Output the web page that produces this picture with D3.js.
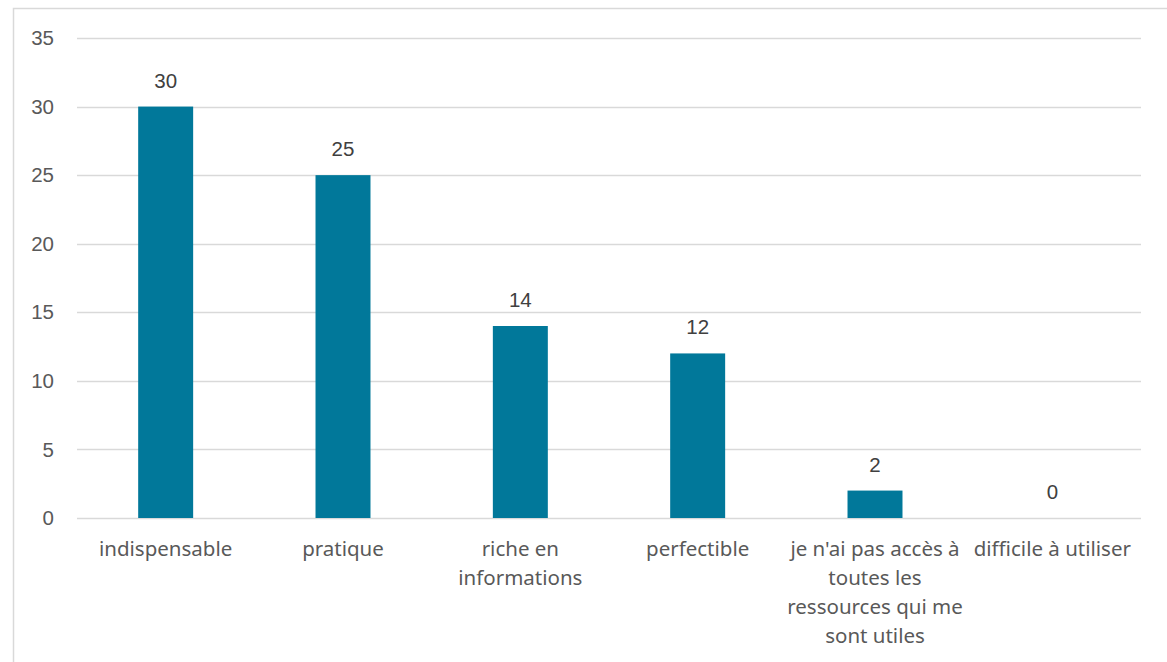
<!DOCTYPE html>
<html>
<head>
<meta charset="utf-8">
<script src="https://cdn.jsdelivr.net/npm/d3@7"></script>
<style>
  body { margin: 0; background: #fff; }
  svg { display: block; }
</style>
</head>
<body>
<svg id="chart" width="1167" height="662"></svg>
<script>
// categories and counts
var categories = ["indispensable", "pratique", "riche en informations", "perfectible",
    "je n'ai pas accès à toutes les ressources qui me sont utiles", "difficile à utiliser"];
var counts = [30, 25, 14, 12, 2, 0];
var yTicks = [0, 5, 10, 15, 20, 25, 30, 35];

var svg = d3.select('#chart');
var margin = {left: 77, right: 26, top: 38, bottom: 144},
    width = 1167 - margin.left - margin.right,
    height = 662 - margin.top - margin.bottom;

var textColor = '#595959',
    gridColor = '#d9d9d9',
    barColor = '#01789a';

// chart frame
svg.append('rect')
    .attr('x', 13.5).attr('y', 8.5)
    .attr('width', 1167).attr('height', 662)
    .attr('fill', 'none')
    .attr('stroke', '#d9d9d9')
    .attr('stroke-width', 1.5);

var g = svg.append('g').attr('transform', 'translate(' + margin.left + ',' + margin.top + ')');

var x = d3.scaleBand().domain(categories).range([0, width]).paddingInner(0.69).paddingOuter(0.345);
var y = d3.scaleLinear().domain([0, 35]).range([height, 0]);

// grid
g.selectAll('line.grid').data(yTicks).enter().append('line')
    .attr('class', 'grid')
    .attr('x1', 0).attr('x2', width)
    .attr('y1', function(d) { return Math.round(y(d)) + 0.5; })
    .attr('y2', function(d) { return Math.round(y(d)) + 0.5; })
    .attr('stroke', gridColor)
    .attr('stroke-width', 1.3);

// y tick labels
g.selectAll('text.ytick').data(yTicks).enter().append('text')
    .attr('class', 'ytick')
    .attr('x', -23)
    .attr('y', function(d) { return y(d); })
    .attr('dy', '0.35em')
    .attr('text-anchor', 'end')
    .attr('font-family', 'Liberation Sans, Arial, sans-serif')
    .attr('font-size', 20.5)
    .attr('fill', textColor)
    .text(function(d) { return d; });

// bars
g.selectAll('rect.bar').data(counts).enter().append('rect')
    .attr('class', 'bar')
    .attr('x', function(d, i) { return x(categories[i]); })
    .attr('width', x.bandwidth())
    .attr('y', function(d) { return y(d); })
    .attr('height', function(d) { return height - y(d); })
    .attr('fill', barColor);

// value labels
g.selectAll('text.value').data(counts).enter().append('text')
    .attr('class', 'value')
    .attr('x', function(d, i) { return x(categories[i]) + x.bandwidth() / 2; })
    .attr('y', function(d) { return y(d) - 19; })
    .attr('text-anchor', 'middle')
    .attr('font-family', 'Liberation Sans, Arial, sans-serif')
    .attr('font-size', 20.5)
    .attr('fill', '#404040')
    .text(function(d) { return d; });

// category labels, wrapped to the band step
var step = x.step();
categories.forEach(function(c) {
    var cx = x(c) + x.bandwidth() / 2;
    var t = g.append('text')
        .attr('x', cx)
        .attr('y', height + 38)
        .attr('text-anchor', 'middle')
        .attr('font-family', 'Noto Sans, sans-serif')
        .attr('font-size', 20.5)
        .attr('fill', textColor);
    var words = c.split(' '), line = [];
    var tspan = t.append('tspan').attr('x', cx).attr('dy', 0);
    words.forEach(function(w) {
        line.push(w);
        tspan.text(line.join(' '));
        if (tspan.node().getComputedTextLength() > step + 6 && line.length > 1) {
            line.pop();
            tspan.text(line.join(' '));
            line = [w];
            tspan = t.append('tspan').attr('x', cx).attr('dy', 29).text(w);
        }
    });
});
</script>
</body>
</html>
